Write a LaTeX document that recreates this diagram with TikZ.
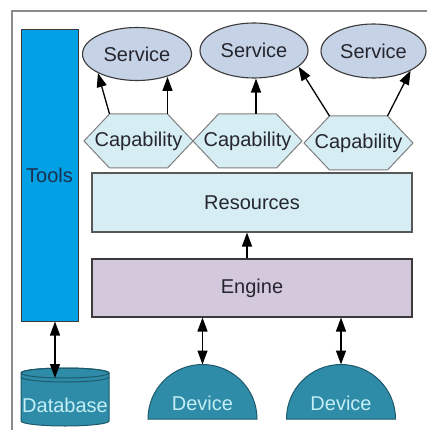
\documentclass[tikz,border=0pt]{standalone}
\usepackage{fontspec}
\setmainfont{Liberation Sans}
\usetikzlibrary{arrows.meta,shapes.geometric}
\definecolor{framegray}{HTML}{8C8C8C}
\definecolor{toolsfill}{HTML}{00A1E4}
\definecolor{toolstext}{HTML}{1C2F50}
\definecolor{svcfill}{HTML}{C6D3E6}
\definecolor{capfill}{HTML}{D6EDF3}
\definecolor{capline}{HTML}{7F7F7F}
\definecolor{resfill}{HTML}{D5EDF3}
\definecolor{engfill}{HTML}{D4C8DD}
\definecolor{tealfill}{HTML}{2E8CA8}
\definecolor{tealline}{HTML}{1E5A6C}
\definecolor{lighttext}{HTML}{C4EEF6}
\definecolor{maintext}{HTML}{26262F}
\definecolor{boxline}{HTML}{3A3A3A}

\newcommand\hexcap[3]{%
  \draw[capshape] (#2-54.5,#3) -- (#2-29,#3+27) -- (#2+29,#3+27) -- (#2+54.5,#3) -- (#2+29,#3-27) -- (#2-29,#3-27) -- cycle;
  \coordinate (#1-tl) at (#2-29,#3+27);
  \coordinate (#1-tr) at (#2+29,#3+27);
  \node[captext] (#1) at (#2,#3) {Capability};
}
\newcommand\devicedome[3]{%
  \draw[tealshape] (#2-54.5,#3) arc[start angle=180,end angle=0,radius=54.5] -- cycle;
  \coordinate (#1-top) at (#2,#3+54.5);
  \node[lighttxt] (#1) at (#2,#3+16) {Device};
}

\begin{document}
\begin{tikzpicture}[x=1pt,y=1pt,
  font=\fontsize{20}{24}\selectfont,
  every node/.style={text=maintext, inner sep=0pt},
  frame/.style={draw=framegray, line width=2pt},
  toolsbox/.style={draw=boxline, fill=toolsfill, line width=1pt, text=toolstext},
  svc/.style={ellipse, draw=boxline, fill=svcfill, line width=1.1pt},
  capshape/.style={draw=capline, fill=capfill, line width=1pt},
  captext/.style={},
  resbox/.style={draw=boxline!85, fill=resfill, line width=1.1pt},
  engbox/.style={draw=boxline, fill=engfill, line width=1.1pt},
  tealshape/.style={draw=tealline, fill=tealfill, line width=1pt},
  lighttxt/.style={text=lighttext},
  arr/.style={draw=black, line width=1.3pt, -{Triangle[length=14pt,width=10pt]}},
  dblarr/.style={draw=black, line width=1.3pt, {Triangle[length=14pt,width=10pt]}-{Triangle[length=14pt,width=10pt]}}
]
\useasboundingbox (0,0) rectangle (427,-430);
\fill[white] (0,0) rectangle (427,-430);
\draw[frame] (12,-430) -- (12,-11) -- (427,-11);

% Tools
\node[toolsbox, minimum width=57, minimum height=291] (tools) at (49.5,-175.5) {Tools};

% Services
\node[svc, minimum width=109, minimum height=53] (s1) at (137,-54) {Service};
\node[svc, minimum width=108, minimum height=55] (s2) at (254,-50.5) {Service};
\node[svc, minimum width=105, minimum height=54] (s3) at (373.5,-51) {Service};

% Capabilities
\hexcap{cap1}{138.5}{-141}
\hexcap{cap2}{247.5}{-141}
\hexcap{cap3}{358.5}{-143}

% Resources and Engine
\node[resbox, minimum width=320, minimum height=59] (res) at (252,-202.5) {Resources};
\node[engbox, minimum width=320, minimum height=58] (eng) at (252,-288) {Engine};

% Devices
\devicedome{dev1}{202.5}{-419}
\devicedome{dev2}{341}{-419}

% Database
\path[tealshape] (21,-373) -- (21,-421) arc[start angle=180,end angle=360,x radius=44,y radius=5] -- (109,-373) arc[start angle=0,end angle=180,x radius=44,y radius=5] -- cycle;
\draw[tealline, line width=1pt] (65,-373) ellipse[x radius=44,y radius=5];
\draw[tealline, line width=1pt] (21,-377) arc[start angle=180,end angle=360,x radius=44,y radius=5];
\coordinate (db-top) at (55,-378);
\node[lighttxt] (db) at (65,-405) {Database};

% Connectors
\draw[arr] (cap1-tl) -- (s1.206);
\draw[arr] (cap1-tr) -- (cap1-tr |- s1.-38);
\coordinate (c2) at (256,-114);
\draw[arr] (c2) -- (c2 |- s2.south);
\draw[arr] (cap3-tl) -- (s2.-20);
\draw[arr] (cap3-tr) -- (s3.-28);

\coordinate (er) at (247,0);
\draw[arr] (eng.north -| er) -- (res.south -| er);

\draw[dblarr] (eng.south -| dev1-top) -- (dev1-top);
\draw[dblarr] (eng.south -| dev2-top) -- (dev2-top);
\draw[dblarr] (tools.south -| db-top) -- (db-top);
\end{tikzpicture}
\end{document}
